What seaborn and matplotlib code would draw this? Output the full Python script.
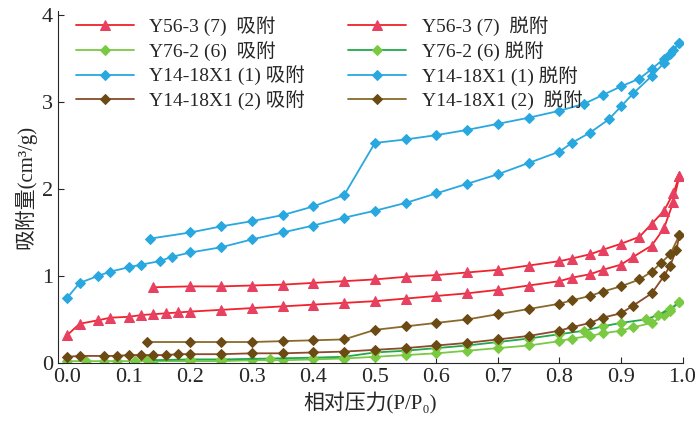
import matplotlib
matplotlib.use("Agg")
import matplotlib.pyplot as plt
import seaborn as sns

# Y14-18X1 (1)
blue_ads_x = [0.0, 0.02, 0.05, 0.07, 0.1, 0.12, 0.15, 0.17, 0.2, 0.25, 0.3, 0.35, 0.4, 0.45, 0.5, 0.55, 0.6, 0.65, 0.7, 0.75, 0.8, 0.82, 0.85, 0.88, 0.9, 0.92, 0.95, 0.97, 0.98, 0.995]
blue_ads_y = [0.75, 0.92, 1.0, 1.05, 1.1, 1.13, 1.17, 1.22, 1.27, 1.33, 1.42, 1.5, 1.58, 1.67, 1.75, 1.84, 1.95, 2.06, 2.17, 2.3, 2.43, 2.53, 2.65, 2.8, 2.95, 3.1, 3.3, 3.45, 3.55, 3.68]
blue_des_x = [0.995, 0.985, 0.97, 0.95, 0.93, 0.9, 0.87, 0.84, 0.8, 0.75, 0.7, 0.65, 0.6, 0.55, 0.5, 0.45, 0.4, 0.35, 0.3, 0.25, 0.2, 0.135]
blue_des_y = [3.68, 3.6, 3.5, 3.38, 3.27, 3.18, 3.08, 2.98, 2.9, 2.82, 2.75, 2.68, 2.62, 2.57, 2.53, 1.93, 1.8, 1.7, 1.63, 1.57, 1.5, 1.43]

# Y56-3 (7)
red_ads_x = [0.0, 0.02, 0.05, 0.07, 0.1, 0.12, 0.14, 0.16, 0.18, 0.2, 0.25, 0.3, 0.35, 0.4, 0.45, 0.5, 0.55, 0.6, 0.65, 0.7, 0.75, 0.8, 0.82, 0.85, 0.87, 0.9, 0.92, 0.95, 0.97, 0.985, 0.995]
red_ads_y = [0.32, 0.45, 0.49, 0.52, 0.53, 0.55, 0.56, 0.57, 0.58, 0.59, 0.61, 0.63, 0.65, 0.67, 0.69, 0.71, 0.74, 0.77, 0.8, 0.84, 0.89, 0.94, 0.98, 1.02, 1.07, 1.13, 1.22, 1.35, 1.55, 1.85, 2.15]
red_des_x = [0.995, 0.985, 0.97, 0.95, 0.93, 0.9, 0.87, 0.85, 0.82, 0.8, 0.75, 0.7, 0.65, 0.6, 0.55, 0.5, 0.45, 0.4, 0.35, 0.3, 0.25, 0.2, 0.14]
red_des_y = [2.15, 1.95, 1.75, 1.6, 1.45, 1.37, 1.3, 1.25, 1.2, 1.17, 1.12, 1.07, 1.04, 1.01, 0.99, 0.96, 0.94, 0.92, 0.9, 0.89, 0.88, 0.88, 0.87]

# Y14-18X1 (2)
brown_ads_x = [0.0, 0.02, 0.06, 0.08, 0.1, 0.12, 0.14, 0.16, 0.18, 0.2, 0.25, 0.3, 0.35, 0.4, 0.45, 0.5, 0.55, 0.6, 0.65, 0.7, 0.75, 0.8, 0.82, 0.85, 0.87, 0.9, 0.92, 0.95, 0.97, 0.98, 0.99, 0.995]
brown_ads_y = [0.07, 0.08, 0.08, 0.08, 0.09, 0.09, 0.09, 0.09, 0.1, 0.1, 0.1, 0.11, 0.11, 0.12, 0.13, 0.15, 0.17, 0.2, 0.23, 0.27, 0.31, 0.37, 0.41, 0.46, 0.52, 0.57, 0.66, 0.8, 1.0, 1.12, 1.3, 1.47]
brown_des_x = [0.995, 0.98, 0.965, 0.95, 0.93, 0.9, 0.87, 0.85, 0.82, 0.8, 0.75, 0.7, 0.65, 0.6, 0.55, 0.5, 0.45, 0.4, 0.35, 0.3, 0.25, 0.2, 0.13]
brown_des_y = [1.47, 1.25, 1.15, 1.05, 0.96, 0.88, 0.82, 0.77, 0.72, 0.68, 0.62, 0.56, 0.5, 0.46, 0.42, 0.38, 0.27, 0.26, 0.25, 0.24, 0.24, 0.24, 0.24]

# Y76-2 (6)
green_ads_x = [0.0, 0.03, 0.06, 0.08, 0.11, 0.14, 0.2, 0.25, 0.3, 0.35, 0.4, 0.45, 0.5, 0.55, 0.6, 0.65, 0.7, 0.75, 0.8, 0.82, 0.85, 0.87, 0.9, 0.92, 0.95, 0.97, 0.98, 0.995]
green_ads_y = [0.02, 0.02, 0.02, 0.02, 0.02, 0.02, 0.02, 0.02, 0.03, 0.03, 0.04, 0.05, 0.07, 0.09, 0.11, 0.14, 0.17, 0.2, 0.25, 0.28, 0.31, 0.34, 0.37, 0.41, 0.46, 0.55, 0.6, 0.7]
green_des_x = [0.995, 0.98, 0.96, 0.94, 0.9, 0.87, 0.84, 0.8, 0.75, 0.7, 0.65, 0.6, 0.55, 0.5, 0.45, 0.4, 0.33, 0.25, 0.2, 0.13]
green_des_y = [0.7, 0.62, 0.55, 0.5, 0.46, 0.42, 0.37, 0.33, 0.28, 0.24, 0.2, 0.17, 0.14, 0.12, 0.07, 0.06, 0.05, 0.04, 0.04, 0.03]

series = [
    ("Y56-3 (7)  吸附", red_ads_x, red_ads_y, "#f0222a", "^", "#e84060"),
    ("Y56-3 (7)  脱附", red_des_x, red_des_y, "#f0222a", "^", "#e84060"),
    ("Y76-2 (6)  吸附", green_ads_x, green_ads_y, "#7ac943", "D", "#7ac943"),
    ("Y76-2 (6) 脱附", green_des_x, green_des_y, "#22a84a", "D", "#7ac943"),
    ("Y14-18X1 (1) 吸附", blue_ads_x, blue_ads_y, "#29a8e0", "D", "#29a8e0"),
    ("Y14-18X1 (1) 脱附", blue_des_x, blue_des_y, "#29a8e0", "D", "#29a8e0"),
    ("Y14-18X1 (2) 吸附", brown_ads_x, brown_ads_y, "#8b4a2b", "D", "#6b4a14"),
    ("Y14-18X1 (2)  脱附", brown_des_x, brown_des_y, "#8a6a2a", "D", "#6b4a14"),
]

sns.set_style("ticks")
fams = ['Liberation Serif', 'Noto Sans CJK SC']
plt.rcParams['font.family'] = fams

fig, ax = plt.subplots(figsize=(7, 4.32), dpi=100)
fig.subplots_adjust(left=0.083, right=0.975, top=0.975, bottom=0.16)

for label, xs, ys, col, mk, mcol in series:
    sns.lineplot(x=xs, y=ys, ax=ax, sort=False, color=col, lw=1.3,
                 marker=mk, markersize=5 if mk == "D" else 7,
                 markerfacecolor=mcol, markeredgecolor=mcol, label=label)

ax.set_xlim(-0.015, 1.0)
ax.set_ylim(0, 4.05)
ax.set_xticks([i / 10 for i in range(11)])
ax.set_xticklabels([f"{i / 10:.1f}" for i in range(11)])
ax.set_yticks([0, 1, 2, 3, 4])
ax.tick_params(direction="in", labelsize=16, length=4)
ax.set_xlabel("相对压力(P/P₀)", fontsize=15, family=fams)
ax.set_ylabel("吸附量(cm³/g)", fontsize=15, family=fams)
sns.despine(ax=ax)

# legend filled row by row: adsorption left, desorption right
h, l = ax.get_legend_handles_labels()
order = [0, 2, 4, 6, 1, 3, 5, 7]
ax.legend([h[i] for i in order], [l[i] for i in order], ncol=2, frameon=False,
          loc="upper left", bbox_to_anchor=(0.0, 1.035), prop={'family': fams, 'size': 14},
          handlelength=3, columnspacing=2.2, labelspacing=0.25)

fig.savefig("out.png", dpi=100)
